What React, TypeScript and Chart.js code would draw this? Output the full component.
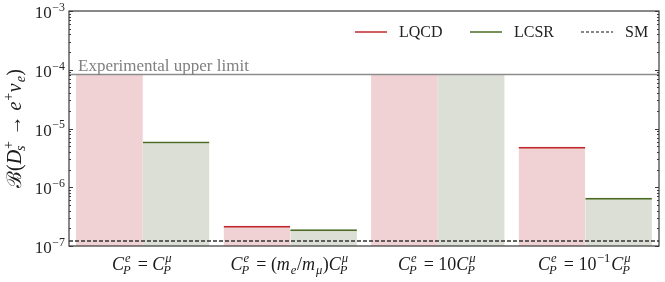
import React, { useEffect, useRef } from "react";
import { Chart, registerables } from "chart.js";

Chart.register(...registerables);

const categories = ["eq", "mass", "ten", "tenth"];
const lqcdValues = [8.3e-5, 2.22e-7, 8.3e-5, 4.9e-6];
const lcsrValues = [6.0e-6, 1.93e-7, 8.3e-5, 6.6e-7];
const expLimit = 8.3e-5;
const smValue = 1.22e-7;
const yMin = 1e-7;
const yMax = 1e-3;
const decadeExponents = [-7, -6, -5, -4, -3];

const SERIF = '"Liberation Serif", "DejaVu Serif", serif';

type Seg = { t: string; i?: boolean; sup?: string; sub?: string; supI?: boolean; subI?: boolean };

const xLabels: Seg[][] = [
  [{ t: "C", i: true, sup: "e", sub: "P", supI: true, subI: true }, { t: " = " }, { t: "C", i: true, sup: "μ", sub: "P", supI: true, subI: true }],
  [
    { t: "C", i: true, sup: "e", sub: "P", supI: true, subI: true },
    { t: " = (" },
    { t: "m", i: true, sub: "e", subI: true },
    { t: "/" },
    { t: "m", i: true, sub: "μ", subI: true },
    { t: ")" },
    { t: "C", i: true, sup: "μ", sub: "P", supI: true, subI: true },
  ],
  [{ t: "C", i: true, sup: "e", sub: "P", supI: true, subI: true }, { t: " = 10" }, { t: "C", i: true, sup: "μ", sub: "P", supI: true, subI: true }],
  [
    { t: "C", i: true, sup: "e", sub: "P", supI: true, subI: true },
    { t: " = 10", sup: "−1" },
    { t: "C", i: true, sup: "μ", sub: "P", supI: true, subI: true },
  ],
];

const yTitle: Seg[] = [
  { t: "ℬ(" },
  { t: "D", i: true, sup: "+", sub: "s", subI: true },
  { t: " → " },
  { t: "e", i: true, sup: "+" },
  { t: "ν", i: true, sub: "e", subI: true },
  { t: ")" },
];

function font(size: number, italic?: boolean) {
  return `${italic ? "italic " : ""}${size}px ${SERIF}`;
}

function segWidth(ctx: CanvasRenderingContext2D, s: Seg, size: number) {
  ctx.font = font(size, s.i);
  let w = ctx.measureText(s.t).width;
  const small = size * 0.7;
  let sw = 0;
  if (s.sup) {
    ctx.font = font(small, s.supI);
    sw = Math.max(sw, ctx.measureText(s.sup).width);
  }
  if (s.sub) {
    ctx.font = font(small, s.subI);
    sw = Math.max(sw, ctx.measureText(s.sub).width);
  }
  return w + sw + (sw > 0 ? 1.5 : 0);
}

function drawRich(ctx: CanvasRenderingContext2D, segs: Seg[], x: number, y: number, size: number, align: "center" | "right" | "left") {
  let total = 0;
  for (const s of segs) total += segWidth(ctx, s, size);
  let cx = align === "center" ? x - total / 2 : align === "right" ? x - total : x;
  ctx.textBaseline = "alphabetic";
  ctx.textAlign = "left";
  const small = size * 0.7;
  for (const s of segs) {
    ctx.font = font(size, s.i);
    ctx.fillText(s.t, cx, y);
    const w = ctx.measureText(s.t).width;
    const sx = cx + w + (s.i ? 1 : 0.5);
    if (s.sup) {
      ctx.font = font(small, s.supI);
      ctx.fillText(s.sup, sx, y - size * 0.42);
    }
    if (s.sub) {
      ctx.font = font(small, s.subI);
      ctx.fillText(s.sub, s.sup ? sx - 2 : sx, y + size * 0.22);
    }
    cx += segWidth(ctx, s, size);
  }
}

const overlayPlugin = {
  id: "overlay",
  afterDatasetsDraw(chart: any) {
    const { ctx, chartArea, scales } = chart;
    const y = scales.y;
    ctx.save();
    const ey = y.getPixelForValue(expLimit);
    ctx.strokeStyle = "#8c8c8c";
    ctx.lineWidth = 1.5;
    ctx.beginPath();
    ctx.moveTo(chartArea.left, ey);
    ctx.lineTo(chartArea.right, ey);
    ctx.stroke();
    ctx.fillStyle = "#808080";
    ctx.font = `17px ${SERIF}`;
    ctx.textAlign = "left";
    ctx.textBaseline = "alphabetic";
    ctx.fillText("Experimental upper limit", chartArea.left + 9, ey - 4);
    const sy = y.getPixelForValue(smValue);
    ctx.strokeStyle = "#333333";
    ctx.lineWidth = 1.5;
    ctx.setLineDash([4, 2]);
    ctx.beginPath();
    ctx.moveTo(chartArea.left, sy);
    ctx.lineTo(chartArea.right, sy);
    ctx.stroke();
    ctx.setLineDash([]);
    ctx.restore();
  },
  afterDraw(chart: any) {
    const { ctx, chartArea, scales } = chart;
    const y = scales.y;
    const x = scales.x;
    ctx.save();
    ctx.strokeStyle = "#3a3a3a";
    ctx.lineWidth = 1.2;
    ctx.strokeRect(chartArea.left, chartArea.top, chartArea.right - chartArea.left, chartArea.bottom - chartArea.top);
    ctx.lineWidth = 1;
    ctx.strokeStyle = "#3a3a3a";
    for (let e = -7; e <= -3; e++) {
      for (let m = 1; m <= 9; m++) {
        const v = m * Math.pow(10, e);
        if (v > yMax * 1.0001) continue;
        const py = Math.round(y.getPixelForValue(v)) + 0.5;
        const len = m === 1 ? 4 : 2;
        ctx.beginPath();
        ctx.moveTo(chartArea.left, py);
        ctx.lineTo(chartArea.left + len, py);
        ctx.moveTo(chartArea.right, py);
        ctx.lineTo(chartArea.right - len, py);
        ctx.stroke();
      }
    }
    ctx.fillStyle = "#262626";
    for (const e of decadeExponents) {
      const py = y.getPixelForValue(Math.pow(10, e));
      drawRich(ctx, [{ t: "10", sup: "−" + Math.abs(e) }], chartArea.left - 3, py + 7, 17, "right");
    }
    ctx.fillStyle = "#1a1a1a";
    categories.forEach((c, i) => {
      const px = x.getPixelForValue(i);
      drawRich(ctx, xLabels[i], px, chartArea.bottom + 24, 18, "center");
    });
    ctx.save();
    ctx.translate(21, (chartArea.top + chartArea.bottom) / 2);
    ctx.rotate(-Math.PI / 2);
    drawRich(ctx, yTitle, 0, 0, 20, "center");
    ctx.restore();
    const items = [
      { label: "LQCD", color: "#c0282d", dash: false },
      { label: "LCSR", color: "#4b6b23", dash: false },
      { label: "SM", color: "#111111", dash: true },
    ];
    const ly = chartArea.top + 21;
    let lx = chartArea.right - 304;
    const step = [115, 111, 0];
    items.forEach((it, k) => {
      ctx.strokeStyle = it.color;
      ctx.lineWidth = it.dash ? 1.2 : 1.5;
      ctx.setLineDash(it.dash ? [3, 2] : []);
      ctx.beginPath();
      ctx.moveTo(lx, ly);
      ctx.lineTo(lx + 32, ly);
      ctx.stroke();
      ctx.setLineDash([]);
      ctx.fillStyle = "#222222";
      ctx.font = `16px ${SERIF}`;
      ctx.textAlign = "left";
      ctx.textBaseline = "middle";
      ctx.fillText(it.label, lx + 44, ly + 1);
      lx += step[k];
    });
    ctx.restore();
  },
};

export default function App() {
  const ref = useRef<HTMLCanvasElement | null>(null);
  useEffect(() => {
    document.body.style.margin = "0";
    const canvas = ref.current;
    if (!canvas) return;
    const topWidth = (values: number[]) => (c: any) =>
      values[c.dataIndex] >= expLimit ? 0 : { top: 2, left: 0, right: 0, bottom: 0 };
    const chart = new Chart(canvas, {
      type: "bar",
      data: {
        labels: categories,
        datasets: [
          {
            label: "LQCD",
            data: lqcdValues,
            backgroundColor: "#f0d2d4",
            borderColor: "#c0282d",
            borderWidth: topWidth(lqcdValues) as any,
            borderSkipped: false,
            barPercentage: 1,
            categoryPercentage: 0.904,
          },
          {
            label: "LCSR",
            data: lcsrValues,
            backgroundColor: "#dcdfd6",
            borderColor: "#4b6b23",
            borderWidth: topWidth(lcsrValues) as any,
            borderSkipped: false,
            barPercentage: 1,
            categoryPercentage: 0.904,
          },
        ],
      },
      options: {
        responsive: false,
        animation: false,
        events: [],
        layout: { padding: { left: 69, right: 6, top: 11, bottom: 36 } },
        plugins: { legend: { display: false }, tooltip: { enabled: false }, title: { display: false } },
        scales: {
          x: {
            type: "category",
            offset: true,
            grid: { display: false, drawTicks: false },
            border: { display: false },
            ticks: { display: false },
          },
          y: {
            type: "logarithmic",
            min: yMin,
            max: yMax,
            grid: { display: false, drawTicks: false },
            border: { display: false },
            ticks: { display: false },
          },
        },
      },
      plugins: [overlayPlugin],
    });
    return () => chart.destroy();
  }, []);
  return (
    <div style={{ width: 665, height: 282, background: "#fff" }}>
      <canvas ref={ref} width={665} height={282} style={{ display: "block" }} />
    </div>
  );
}
